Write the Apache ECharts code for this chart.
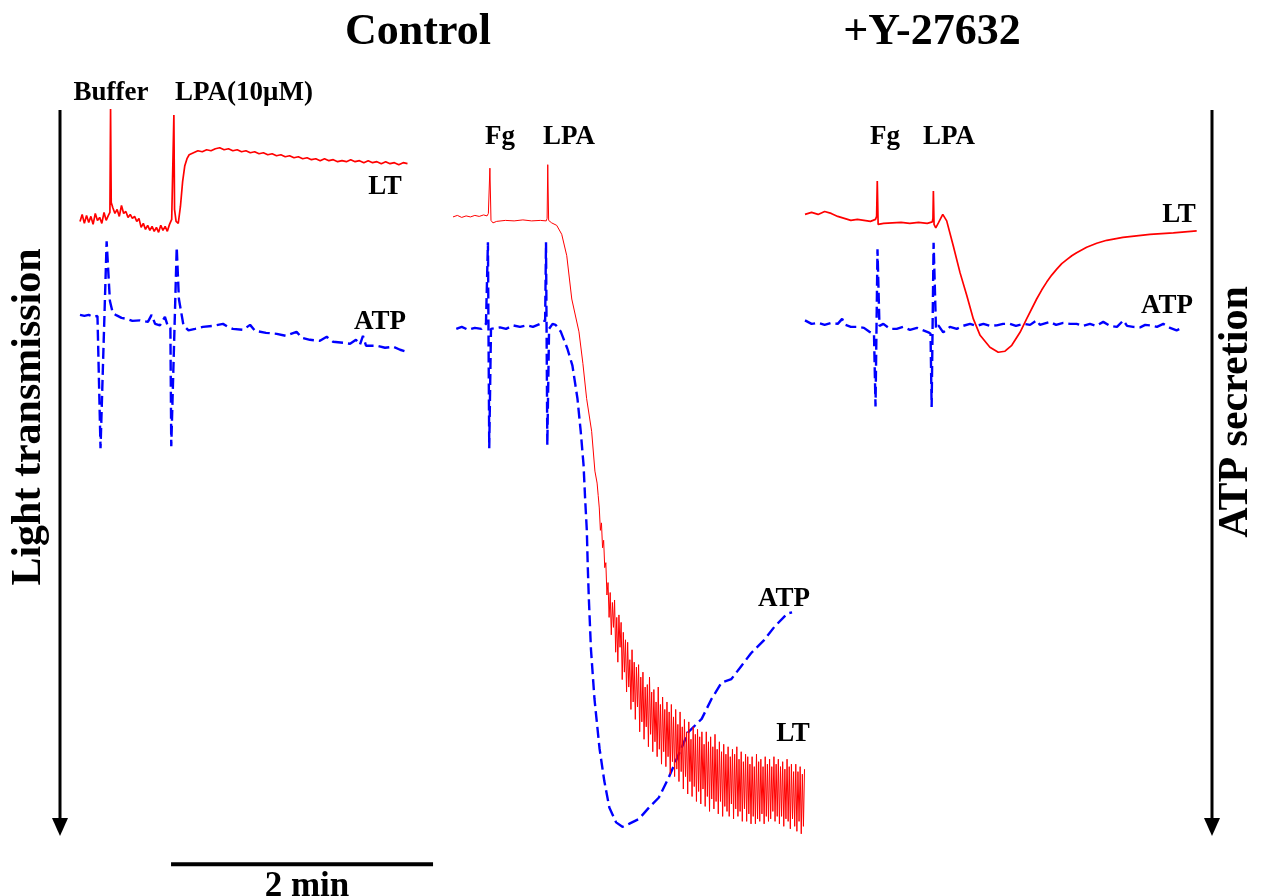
<!DOCTYPE html>
<html>
<head>
<meta charset="utf-8">
<script src="https://cdn.jsdelivr.net/npm/echarts@6/dist/echarts.min.js"></script>
<style>
  html, body { margin: 0; padding: 0; background: #ffffff; }
  #chart { width: 1263px; height: 896px; }
</style>
</head>
<body>
<div id="chart"></div>
<script>
// Aggregometer traces. Each point is [time (s), deflection (arbitrary units)].
// Deflection grows downward: more light transmission (LT) / more ATP secretion.

// Control, buffer then LPA (10 µM)
const ltBufferLpa = [[0,24.4],[1,23],[2,24.8],[3,23.2],[4,24.6],[5,23.4],[6,25],[7,22.8],[8,24.2],[9,23.6],[10,24.8],[11,22.6],[12,24.2],[13,23.2],[13.7,22.6],[14,1.8],[14.3,20.6],[15,21.6],[16,22.8],[17,22],[18,23.4],[19,21.2],[20,22.8],[21,22.4],[22,23.6],[23,23],[24,23.8],[25,23.4],[26,24.4],[27,23.8],[28,25.6],[29,24.8],[30,26],[31,25.2],[32,26.2],[33,25.4],[34,26.4],[35,25.6],[36,26.6],[37,25.2],[38,26.2],[39,25.4],[40,26.4],[41,25],[42,24],[42.7,23.6],[43,3],[43.3,22],[44,24.4],[45,24.8],[46,21.4],[47,16.4],[48,13.2],[49,11.8],[50,11],[52,10.6],[54,10.2],[56,10.4],[58,10],[60,10.2],[62,9.8],[64,9.6],[66,10],[68,9.8],[70,10.2],[72,10],[74,10.4],[76,10.2],[78,10.6],[80,10.4],[82,10.8],[84,10.6],[86,11],[88,10.8],[90,11.2],[92,11],[94,11.4],[96,11.2],[98,11.6],[100,11.4],[102,11.8],[104,11.6],[106,12],[108,11.8],[110,12.2],[112,11.8],[114,12.2],[116,12],[118,12.4],[120,12.2],[122,12.4],[124,12],[126,12.4],[128,12.2],[130,12.6],[132,12.2],[134,12.6],[136,12.4],[138,12.8],[140,12.4],[142,12.8],[144,12.6],[146,13],[148,12.6],[150,12.8]];
const atpBufferLpa = [[0,43.2],[2,43.4],[4,43.2],[6,43.6],[8,43.4],[8.8,43.6],[9.4,70],[12.2,28.4],[13.7,40.4],[15,42.8],[16.8,43.3],[19,43.8],[21.4,44],[24,44.4],[27.5,44.3],[31.1,44.6],[32.8,43.2],[34.4,45],[36.6,45.3],[38.9,43.6],[40.3,45.6],[41.4,45.8],[41.8,69.6],[44.3,29.6],[45.3,40],[47.4,45.3],[49.7,46.3],[52.7,46],[56.3,45.6],[60.9,45.4],[65.5,45],[67.8,45.6],[70,46],[74.7,46.2],[77.9,45.2],[80.2,46.4],[85.2,46.8],[90.1,47],[94.3,47.4],[99.2,46.6],[101.7,47.8],[105.3,48.2],[109.9,48.4],[113,47.6],[115.9,48.6],[120.5,48.8],[123.7,49],[126.4,48.2],[128.2,49.2],[129.6,47.4],[131,49.4],[135.9,49.4],[139.7,49.8],[143.4,49.6],[146.6,50.2],[149.6,50.6]];

// Control, fibrinogen (Fg) then LPA: slow part of the LT trace
const ltFgLpa = [[0,23.5],[2,23.2],[4,23.6],[6,23.3],[8,23.5],[10,23.2],[12,23.4],[14,23.1],[15.6,23.3],[16.2,22.8],[16.9,13.7],[17.4,24.2],[18.3,24.7],[20,24.4],[24,24.2],[28,24.3],[32,24.1],[36,24.3],[40,24.2],[42.7,24.3],[43.1,23.8],[43.4,13],[43.8,24.2],[44.2,24.6],[45.2,24.7],[47.5,25.2],[49.8,27],[52.1,31.3],[54.4,40],[57.7,46.6],[59.5,53],[61.2,60],[63.5,66.6],[65,74.6]];
// ...and its fast-sampled, oscillating part (one value every 0.5 s from 66 s)
const ltFgLpaOscStart = 66;
const ltFgLpaOscStep = 0.5;
const ltFgLpaOsc = [77,79.5,82,86.5,85,90,88.5,94,93,99.5,97,104,99,107.5,101,106,100.5,111,104,113,103.5,110,105,116.5,107,115,108.5,119,109,118,112.5,122.5,110.5,121,113,124.5,114,122,113.5,127,116,125,115,128.5,118,126,117.5,130,116,127.5,119,131,118.5,129,121,132,118,130.5,121.5,133.5,120,131,122.5,134,121,132,123,135.5,121.5,133,124,136,122.5,134.5,125.5,137,123,135,126,138.5,124.5,136,127,139.5,125,137,128.5,140,126,138,127.5,141,126.5,139,128,141.5,127,138.5,129.5,142,127,140,129,143,128,140.5,130,142.5,127.5,141,130.5,143.5,129,141,131,144,129.5,142,131.5,143,130,144,132,141.5,130.5,144.5,131.5,142.5,130,144,132.5,143,131,145,133,142.5,131.5,145,132,143.5,133.5,145.5,132,144,134,145.5,131.5,144.5,133,145,132.5,143.5,134,145.5,132,144,133.5,145,132.5,144.5,134,143,132,145,133.5,144,132.5,145.5,134,144,133,146,134.5,144.5,132.5,145,134,146.5,133.5,144.5,135,146,133.5,147,135,145,134,147.5,135.5,146,134.5];
const atpFgLpa = [[1.5,46],[4,45.6],[7,46.2],[10,45.8],[13,46],[15.1,45],[15.6,45.4],[16,28.6],[16.6,70],[17.4,46],[18.3,46],[21.5,45.7],[24.3,46],[27.5,45.3],[30.7,45.6],[33.9,45.3],[36.6,45.6],[39.8,45],[41.2,44.4],[42.2,44.4],[42.6,28.6],[43.2,69.4],[44,46],[44.5,46],[45.6,45],[47,45.2],[49.4,46.6],[52.4,50],[54.7,53.4],[57,60],[58.5,66.6],[59.8,73.4],[60.5,80],[61.3,86.6],[61.7,93.4],[62.2,100],[63.2,110.5],[64.8,120.4],[67.1,130.3],[69.3,136.9],[71.6,142.2],[74.7,145.2],[77.6,146.1],[80.6,145.5],[85.2,144.5],[89.8,142.2],[94.3,140.2],[98.8,136.2],[103.3,131.6],[107.9,127],[113.9,124.4],[118.4,120.4],[123,117.1],[127.5,116.4],[132,113.8],[136.5,111.2],[142.6,108.5],[147.2,105.9],[153.2,103.2],[155.3,103]];

// +Y-27632, fibrinogen (Fg) then LPA
const ltY27632 = [[0,23],[3,22.6],[6,23],[9,22.4],[12,22.8],[15,23.4],[18,23.8],[21,24.2],[24,24],[27,24.2],[30,24.4],[32.3,24],[32.8,23.4],[33.1,16.3],[33.5,25],[34.4,25.3],[36,24.8],[40,24.7],[44,24.6],[48,24.8],[52,24.6],[56,24.8],[58.3,24.5],[58.6,23.8],[58.8,18.3],[59.1,25],[59.9,25.7],[61.1,24.7],[63.1,23],[64.9,24.3],[67.9,29.3],[71,34.7],[74.1,39.3],[77.1,44],[80.2,47.3],[84.7,49.7],[88.5,50.7],[91.6,50.5],[94.7,49.3],[98.5,46.7],[101.5,44],[106.1,40],[108.4,38.2],[110.7,36.6],[113,35.2],[115.3,34],[117.6,32.9],[119.9,32.1],[122.2,31.3],[124.4,30.7],[129,29.6],[133.6,28.8],[138.2,28.2],[145.6,27.6],[158,27],[168.7,26.7],[179.4,26.3]];
const atpY27632 = [[0,44.3],[3,45],[6,44.8],[9,45.2],[12,44.8],[15,45],[17,44],[18.5,45.2],[21,45.6],[24,45.6],[27,45.8],[29.5,46.6],[31.6,47],[32.3,61.6],[33.2,30],[34.1,45.4],[35.9,45],[38.9,46],[42,46],[44.9,45.6],[48.1,46.2],[51.3,45.8],[54.2,46.3],[56.5,46.7],[57.5,47],[58,61.7],[58.9,28.7],[60,46],[61.1,45.3],[63.3,46.7],[66.4,45.6],[69.5,46],[72.4,45.4],[75.6,45],[78.6,45.4],[81.7,45],[84.7,45.4],[87.8,45.3],[90.7,45],[93.9,45],[96.6,45.4],[100,45],[103.1,45.2],[106.1,44.3],[107.6,45.2],[112.2,44.6],[115,45.2],[118.3,44.8],[121.4,45],[124.4,45],[127.3,45.4],[130.5,45],[133.3,45.4],[136.6,44.6],[139.7,45.4],[142.9,45.6],[145.8,44.3],[147.5,45.4],[150.3,45.6],[153.5,45.7],[155.8,45.2],[158,45.3],[161.2,45.6],[164.1,45],[167.2,45.8],[170.2,46.3],[171.8,46]];

// 2 min time scale bar (start, end in seconds) and its level
const scaleBarSeconds = [41.7, 161.7];
const scaleBarLevel = 153.6;

// Labels
const panelTitles = ['Control', '+Y-27632'];
const additionLabels = ['Buffer', 'LPA(10μM)', 'Fg', 'LPA', 'Fg', 'LPA'];
const traceLabels = ['LT', 'ATP'];
const axisTitles = ['Light transmission', 'ATP secretion'];
const scaleBarLabel = '2 min';

// ---- layout ----
const PX_PER_S = 262 / 120;
const TOP = 100, PX_PER_UNIT = 5, Y_MAX = 160;
const panels = [
  { left: 80,  xMax: 165 },
  { left: 453, xMax: 162 },
  { left: 805, xMax: 182 }
];

const serif = '"Liberation Serif", "Times New Roman", Times, serif';
const RED = '#ff0000', BLUE = '#0000ff';

const grid = panels.map(p => ({
  left: p.left, top: TOP,
  width: p.xMax * PX_PER_S, height: Y_MAX * PX_PER_UNIT,
  containLabel: false
}));
const xAxis = panels.map((p, i) => ({ type: 'value', gridIndex: i, min: 0, max: p.xMax, show: false }));
const yAxis = panels.map((p, i) => ({ type: 'value', gridIndex: i, min: 0, max: Y_MAX, inverse: true, show: false }));

function trace(data, idx, kind, width) {
  const isLT = kind === 'LT';
  return {
    type: 'line', xAxisIndex: idx, yAxisIndex: idx, data: data,
    symbol: 'none', showSymbol: false, silent: true, animation: false,
    lineStyle: isLT
      ? { color: RED, width: width || 1.7 }
      : { color: BLUE, width: 2.4, type: [11, 5] },
    z: isLT ? 3 : 2
  };
}

// full Fg/LPA light-transmission trace: slow part followed by the fast-sampled part
const ltFgLpaFull = ltFgLpa.concat(
  ltFgLpaOsc.map((v, i) => [ltFgLpaOscStart + i * ltFgLpaOscStep, v])
);

const series = [
  trace(atpBufferLpa, 0, 'ATP'),
  trace(ltBufferLpa, 0, 'LT'),
  trace(atpFgLpa, 1, 'ATP'),
  trace(ltFgLpaFull, 1, 'LT', 1),
  trace(atpY27632, 2, 'ATP'),
  trace(ltY27632, 2, 'LT'),
  {
    type: 'line', xAxisIndex: 0, yAxisIndex: 0,
    data: scaleBarSeconds.map(t => [t, scaleBarLevel]),
    symbol: 'none', silent: true, animation: false,
    lineStyle: { color: '#000', width: 4 }
  }
];

function txt(text, x, y, size, opts) {
  opts = opts || {};
  return {
    type: 'text', x: x, y: y, rotation: opts.rotation || 0, silent: true,
    style: {
      text: text, font: 'bold ' + size + 'px ' + serif, fill: '#000',
      align: 'center', verticalAlign: 'middle',
      textAlign: 'center', textVerticalAlign: 'middle'
    }
  };
}
function arrow(x, y1, y2) {
  return [
    { type: 'line', silent: true, shape: { x1: x, y1: y1, x2: x, y2: y2 - 14 }, style: { stroke: '#000', lineWidth: 3 } },
    { type: 'polygon', silent: true, shape: { points: [[x - 8, y2 - 18], [x + 8, y2 - 18], [x, y2]] }, style: { fill: '#000' } }
  ];
}

const graphic = [
  txt(panelTitles[0], 418, 33, 44),
  txt(panelTitles[1], 932, 33, 44),
  txt(additionLabels[0], 111, 93, 27),
  txt(additionLabels[1], 244, 93, 27),
  txt(additionLabels[2], 500, 137, 27),
  txt(additionLabels[3], 569, 137, 27),
  txt(additionLabels[4], 885, 137, 27),
  txt(additionLabels[5], 949, 137, 27),
  txt(traceLabels[0], 385, 187, 27),
  txt(traceLabels[1], 380, 322, 27),
  txt(traceLabels[1], 784, 599, 27),
  txt(traceLabels[0], 793, 734, 27),
  txt(traceLabels[0], 1179, 215, 27),
  txt(traceLabels[1], 1167, 306, 27),
  txt(axisTitles[0], 29, 417, 42, { rotation: Math.PI / 2 }),
  txt(axisTitles[1], 1236, 412, 42, { rotation: Math.PI / 2 }),
  txt(scaleBarLabel, 307, 887, 35)
].concat(arrow(60, 110, 836), arrow(1212, 110, 836));

const chart = echarts.init(document.getElementById('chart'), null, { renderer: 'canvas' });
chart.setOption({
  backgroundColor: '#ffffff',
  animation: false,
  grid: grid,
  xAxis: xAxis,
  yAxis: yAxis,
  series: series,
  graphic: graphic
});
</script>
</body>
</html>
